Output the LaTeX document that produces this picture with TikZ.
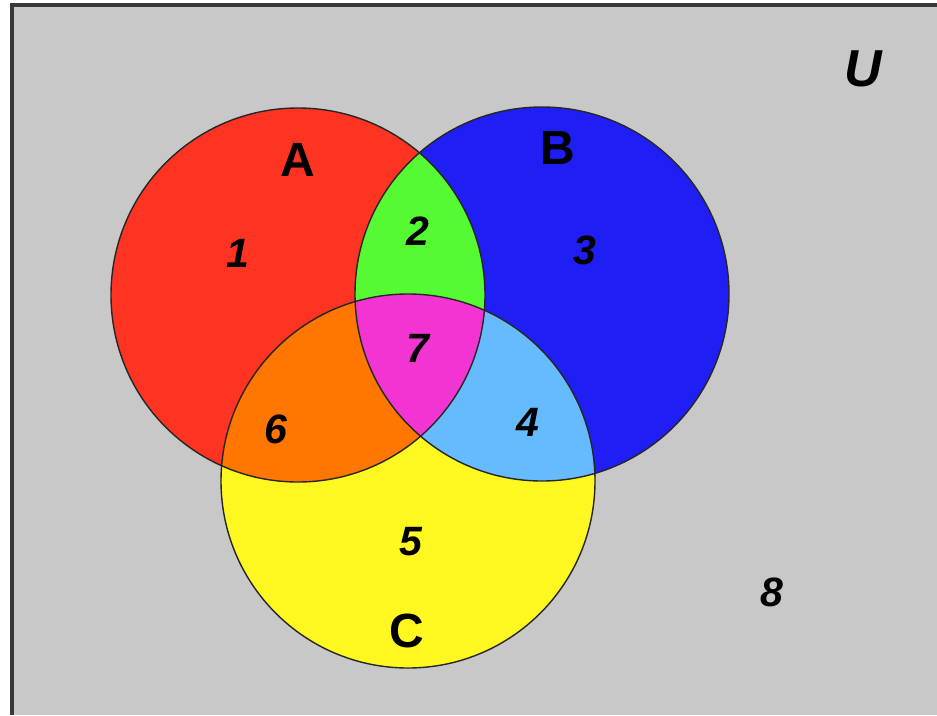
\documentclass[tikz,border=0pt]{standalone}
\usepackage{fontspec}
\setmainfont{Liberation Sans}
\definecolor{bggray}{HTML}{C8C8C8}
\definecolor{framegray}{HTML}{383838}
\definecolor{cred}{HTML}{FF3322}
\definecolor{cblue}{HTML}{1E1EF5}
\definecolor{cyellow}{HTML}{FFF820}
\definecolor{cgreen}{HTML}{55FA33}
\definecolor{corange}{HTML}{FF7700}
\definecolor{clightblue}{HTML}{66BBFF}
\definecolor{cmagenta}{HTML}{F235D2}
\tikzset{
  outline/.style={draw=black!85, line width=1.4pt},
  setlabel/.style={font=\bfseries\fontsize{48}{56}\selectfont, inner sep=0pt, anchor=center},
  regionlabel/.style={font=\bfseries\itshape\fontsize{41}{48}\selectfont, inner sep=0pt, anchor=center},
}
\begin{document}
\begin{tikzpicture}[x=1pt,y=-1pt]
\useasboundingbox (0,0) rectangle (937,715);
\fill[white] (0,0) rectangle (937,715);
\fill[bggray] (12,5) rectangle (937,715);
\draw[framegray, line width=3.5pt] (12,715) -- (12,5) -- (937,5);
\coordinate (cA) at (298,295);
\coordinate (cB) at (542,294);
\coordinate (cC) at (408,481);
\def\rr{187pt}
\fill[cred] (cA) circle[radius=\rr];
\fill[cblue] (cB) circle[radius=\rr];
\fill[cyellow] (cC) circle[radius=\rr];
\begin{scope}
  \clip (cA) circle[radius=\rr];
  \fill[cgreen] (cB) circle[radius=\rr];
  \fill[corange] (cC) circle[radius=\rr];
\end{scope}
\begin{scope}
  \clip (cB) circle[radius=\rr];
  \fill[clightblue] (cC) circle[radius=\rr];
\end{scope}
\begin{scope}
  \clip (cA) circle[radius=\rr];
  \clip (cB) circle[radius=\rr];
  \fill[cmagenta] (cC) circle[radius=\rr];
\end{scope}
\draw[outline] (cA) circle[radius=\rr];
\draw[outline] (cB) circle[radius=\rr];
\draw[outline] (cC) circle[radius=\rr];
\node[setlabel] (lA) at (298,160) {A};
\node[setlabel] (lB) at (558,148) {B};
\node[setlabel] (lC) at (407,631) {C};
\node[setlabel, font=\bfseries\itshape\fontsize{52}{60}\selectfont] (lU) at (863,69) {U};
\node[regionlabel] (r1) at (238,253) {1};
\node[regionlabel] (r2) at (418,231) {2};
\node[regionlabel] (r3) at (585,250) {3};
\node[regionlabel] (r4) at (528,422) {4};
\node[regionlabel] (r5) at (411,542) {5};
\node[regionlabel] (r6) at (276,429) {6};
\node[regionlabel] (r7) at (418,348) {7};
\node[regionlabel] (r8) at (772,592) {8};
\end{tikzpicture}
\end{document}
